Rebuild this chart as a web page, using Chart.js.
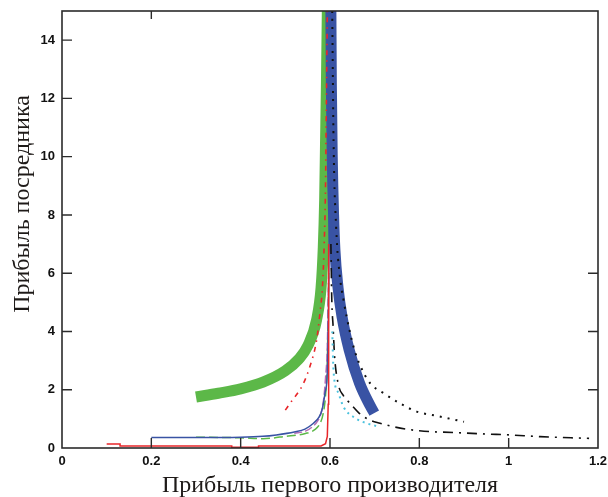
<!DOCTYPE html>
<html>
<head>
<meta charset="utf-8">
<script src="https://cdn.jsdelivr.net/npm/chart.js@4/dist/chart.umd.min.js"></script>
<style>
  html, body { margin: 0; padding: 0; background: #fff; }
  canvas { display: block; }
</style>
</head>
<body>
<canvas id="profitChart" width="608" height="497"></canvas>
<script>
// tick labels
const xTicks = [0, 0.2, 0.4, 0.6, 0.8, 1, 1.2];
const yTicks = [0, 2, 4, 6, 8, 10, 12, 14];

// thick green band (crosses)
const greenBandX = [0.30, 0.35, 0.40, 0.45, 0.50, 0.53, 0.55, 0.57, 0.58, 0.585, 0.588, 0.59, 0.592, 0.594];
const greenBandY = [1.75, 1.88, 2.03, 2.26, 2.65, 3.05, 3.5, 4.4, 5.5, 6.9, 8.5, 10.5, 12.5, 15];

// thick blue band (diamonds)
const blueBandX = [0.602, 0.603, 0.605, 0.608, 0.611, 0.618, 0.627, 0.643, 0.666, 0.69, 0.699];
const blueBandY = [15, 12.5, 10, 8, 6.8, 5.5, 4.5, 3.36, 2.23, 1.45, 1.2];

// red dash-dot
const redDashX = [0.50, 0.51, 0.54, 0.555, 0.57, 0.578, 0.583, 0.587, 0.59, 0.592, 0.594];
const redDashY = [1.3, 1.52, 2.2, 2.8, 3.7, 4.7, 5.5, 7, 9, 12, 15];

// red solid
const redSolidX = [0.10, 0.13, 0.13, 0.38, 0.38, 0.44, 0.44, 0.58, 0.59, 0.594, 0.596, 0.597];
const redSolidY = [0.14, 0.14, 0.07, 0.07, 0.03, 0.03, 0.07, 0.07, 0.15, 0.4, 1.5, 7.0];

// blue thin solid
const blueThinX = [0.2, 0.3, 0.4, 0.45, 0.48, 0.52, 0.544, 0.563, 0.575, 0.582, 0.589, 0.594, 0.596, 0.598, 0.6];
const blueThinY = [0.36, 0.36, 0.37, 0.4, 0.45, 0.55, 0.65, 0.85, 1.05, 1.3, 1.9, 2.6, 4, 7, 15];

// green dashed
const greenDashX = [0.3, 0.4, 0.45, 0.5, 0.545, 0.565, 0.578, 0.585, 0.59, 0.594, 0.597];
const greenDashY = [0.37, 0.35, 0.32, 0.4, 0.5, 0.62, 0.85, 1.2, 1.8, 3, 6];

// purple dashed
const purpleDashX = [0.52, 0.545, 0.56, 0.572, 0.58, 0.586, 0.59, 0.594, 0.597];
const purpleDashY = [0.5, 0.58, 0.72, 0.92, 1.2, 1.7, 2.4, 3.5, 6];

// black dotted
const blackDotX = [0.605, 0.608, 0.614, 0.622, 0.63, 0.645, 0.656, 0.667, 0.69, 0.72, 0.757, 0.794, 0.84, 0.9];
const blackDotY = [15, 10.5, 7.5, 5.9, 5.1, 3.95, 3.3, 2.85, 2.22, 1.88, 1.53, 1.25, 1.1, 0.9];

// black dash-dot
const blackDashDotX = [0.602, 0.604, 0.607, 0.61, 0.619, 0.63, 0.645, 0.665, 0.69, 0.712, 0.742, 0.8, 0.88, 0.95, 1.0, 1.07, 1.14, 1.18];
const blackDashDotY = [7, 5.1, 4.16, 3.2, 2.16, 1.8, 1.53, 1.2, 0.95, 0.85, 0.73, 0.59, 0.53, 0.48, 0.45, 0.39, 0.35, 0.33];

// cyan dotted
const cyanDotX = [0.605, 0.608, 0.619, 0.63, 0.657, 0.682, 0.71];
const cyanDotY = [4, 2.62, 1.88, 1.42, 1.02, 0.85, 0.73];

const xTitle = 'Прибыль первого производителя';
const yTitle = 'Прибыль посредника';

function pts(xs, ys) {
    return xs.map((x, i) => ({ x: x, y: ys[i] }));
}

function series(xs, ys, color, width, dash, order, extra) {
    return Object.assign({
        data: pts(xs, ys),
        showLine: true,
        borderColor: color,
        backgroundColor: color,
        borderWidth: width,
        borderDash: dash,
        pointRadius: 0,
        fill: false,
        cubicInterpolationMode: 'monotone',
        order: order,
        clip: 0
    }, extra || {});
}

const AXIS = '#2b2b2b';

// box, inward ticks and axis titles
const framePlugin = {
    id: 'frame',
    afterDraw(chart) {
        const { ctx, chartArea: a, scales } = chart;
        const xs = scales.x, ys = scales.y;
        ctx.save();
        ctx.strokeStyle = AXIS;
        ctx.lineWidth = 1.6;
        ctx.strokeRect(a.left, a.top, a.right - a.left, a.bottom - a.top);

        ctx.lineWidth = 1.4;
        ctx.beginPath();
        yTicks.forEach(v => {
            if (v === 0) return;
            const p = ys.getPixelForValue(v);
            ctx.moveTo(a.left, p); ctx.lineTo(a.left + 10, p);
        });
        [2, 4, 6].forEach(v => {
            const p = ys.getPixelForValue(v);
            ctx.moveTo(a.right, p); ctx.lineTo(a.right - 10, p);
        });
        xTicks.forEach(v => {
            if (v === 0 || v === 1.2) return;
            const p = xs.getPixelForValue(v);
            ctx.moveTo(p, a.bottom); ctx.lineTo(p, a.bottom - 10);
        });
        const tp = xs.getPixelForValue(0.2);
        ctx.moveTo(tp, a.top); ctx.lineTo(tp, a.top + 8);
        ctx.stroke();

        ctx.fillStyle = '#1e1a18';
        ctx.font = '24px "Liberation Serif"';
        ctx.textAlign = 'center';
        ctx.textBaseline = 'alphabetic';
        ctx.fillText(xTitle, (a.left + a.right) / 2, 492);

        ctx.translate(29, 204);
        ctx.rotate(-Math.PI / 2);
        ctx.fillText(yTitle, 0, 0);
        ctx.restore();
    }
};

const tickFont = { family: '"Liberation Sans", Arial, sans-serif', size: 13, weight: 'bold' };

new Chart(document.getElementById('profitChart'), {
    type: 'scatter',
    data: {
        datasets: [
            series(redSolidX, redSolidY, '#e8262a', 1.5, [], 0, { cubicInterpolationMode: 'default', tension: 0 }),
            series(redDashX, redDashY, '#e8262a', 1.6, [5, 5, 1.5, 5], 1),
            series(blueThinX, blueThinY, '#3953a4', 1.5, [], 2),
            series(purpleDashX, purpleDashY, '#b46cb6', 1.5, [8, 3], 3),
            series(greenDashX, greenDashY, '#5cb848', 1.5, [9, 4], 4),
            series(cyanDotX, cyanDotY, '#4cc2de', 2, [2, 4], 5),
            series(blackDotX, blackDotY, '#111111', 2, [2, 6], 6),
            series(blackDashDotX, blackDashDotY, '#111111', 1.6, [10, 6, 2, 6], 7),
            series(blueBandX, blueBandY, '#3953a4', 11, [], 10),
            series(greenBandX, greenBandY, '#5cb848', 11, [], 11)
        ]
    },
    options: {
        responsive: false,
        animation: false,
        layout: { padding: { top: 11, right: 10, left: 0, bottom: 0 } },
        plugins: {
            legend: { display: false },
            tooltip: { enabled: false }
        },
        scales: {
            x: {
                type: 'linear',
                min: 0,
                max: 1.2,
                grid: { display: false, drawTicks: false },
                border: { display: false },
                afterBuildTicks: s => { s.ticks = xTicks.map(v => ({ value: v })); },
                afterFit: s => { s.height = 49; s.paddingLeft = 0; s.paddingRight = 0; },
                ticks: { color: '#111', font: tickFont, padding: 6, maxRotation: 0, autoSkip: false, callback: v => String(v) }
            },
            y: {
                type: 'linear',
                min: 0,
                max: 15,
                grid: { display: false, drawTicks: false },
                border: { display: false },
                afterBuildTicks: s => { s.ticks = yTicks.map(v => ({ value: v })); },
                afterFit: s => { s.width = 62; s.paddingTop = 0; s.paddingBottom = 0; },
                ticks: { color: '#111', font: tickFont, padding: 7, autoSkip: false, callback: v => String(v) }
            }
        }
    },
    plugins: [framePlugin]
});
</script>
</body>
</html>
